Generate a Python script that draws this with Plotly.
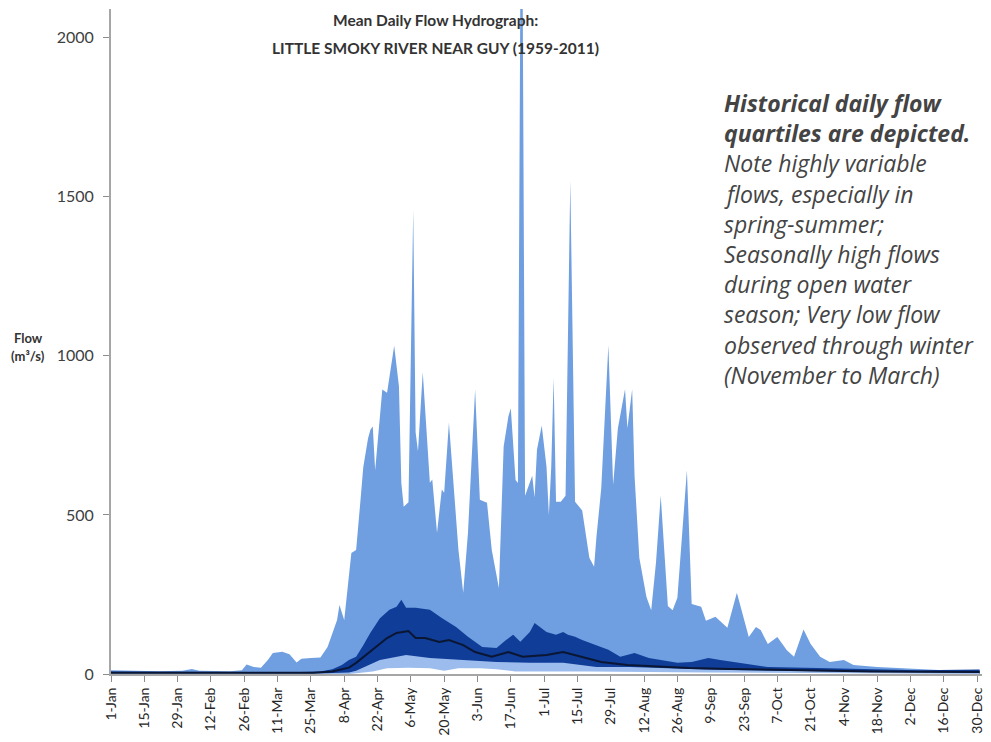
import plotly.graph_objects as go

# Day of year (0 = 1 Jan, leap-year calendar) and flow values in m3/s
max_days = [0, 10, 20, 30, 34, 37, 50, 55, 57, 60, 63, 66, 68, 72, 75, 78, 80, 84, 88, 91,
            93, 95, 96, 98, 101, 103, 105, 106, 108, 109, 110, 111, 114, 116, 119, 121, 122, 123,
            125, 127, 128, 129, 131, 134, 135, 137, 139, 140, 142, 144, 146, 148, 150, 153, 155,
            158, 160, 163, 165, 167, 168, 170, 171, 172, 173, 174, 177, 178, 179, 181, 183, 184,
            185, 186, 187, 189, 191, 193, 195, 198, 201, 203, 204, 206, 209, 211, 213, 216, 217,
            219, 220, 222, 225, 227, 229, 231, 234, 236, 238, 242, 244, 248, 250, 254, 256, 259,
            263, 266, 268, 271, 273, 276, 280, 284, 287, 291, 294, 298, 302, 308, 312, 322, 336,
            350, 365]
max_flow = [12, 10, 9, 10, 16, 10, 9, 12, 30, 22, 20, 45, 66, 70, 62, 36, 48, 50, 52, 85,
            130, 170, 217, 170, 380, 390, 560, 650, 740, 768, 778, 640, 894, 884, 1032, 904, 600, 526,
            540, 1458, 760, 700, 948, 601, 611, 444, 580, 570, 790, 601, 390, 255, 444, 894, 548,
            538, 390, 270, 715, 810, 835, 610, 600, 2130, 2130, 560, 623, 555, 705, 781, 651, 500,
            651, 930, 541, 541, 560, 1550, 541, 514, 365, 337, 432, 583, 1033, 595, 772, 895, 772,
            895, 623, 365, 242, 200, 350, 560, 214, 200, 240, 640, 220, 211, 167, 180, 167, 145,
            255, 167, 116, 148, 138, 94, 116, 75, 54, 140, 94, 54, 38, 44, 28, 22, 17,
            12, 12]

q75_days = [0, 30, 60, 80, 88, 93, 97, 100, 103, 106, 109, 113, 117, 120, 122, 124, 128, 134,
            139, 145, 150, 156, 162, 166, 169, 172, 176, 178, 183, 187, 190, 192, 195, 198, 204,
            209, 214, 220, 226, 231, 238, 244, 251, 256, 262, 276, 297, 311, 339, 365]
q75_flow = [8, 6, 6, 6, 8, 15, 28, 44, 54, 90, 130, 175, 202, 211, 233, 208, 208, 202,
            176, 148, 117, 85, 82, 107, 123, 101, 132, 160, 132, 123, 132, 123, 117, 107, 91,
            76, 54, 66, 50, 44, 35, 38, 50, 44, 38, 22, 19, 16, 12, 14]

med_days = [0, 60, 85, 93, 100, 103, 110, 116, 120, 125, 128, 132, 138, 142, 148, 153, 160,
            167, 173, 183, 190, 198, 206, 217, 231, 243, 260, 290, 320, 365]
med_flow = [4, 3, 4, 8, 20, 35, 76, 113, 129, 135, 113, 113, 101, 107, 91, 69, 54,
            69, 54, 60, 69, 54, 38, 28, 22, 19, 16, 12, 8, 6]

q25_days = [0, 90, 100, 103, 113, 120, 124, 134, 148, 162, 176, 190, 204, 218, 231, 250, 280,
            320, 365]
q25_flow = [2, 2, 5, 10, 44, 54, 60, 50, 44, 38, 35, 35, 22, 22, 19, 14, 10,
            6, 3]

min_days = [0, 100, 110, 116, 125, 134, 140, 146, 155, 162, 170, 200, 250, 300, 365]
min_flow = [0, 0, 8, 18, 20, 18, 10, 18, 18, 15, 8, 8, 5, 3, 0]

tick_days = [0, 14, 28, 42, 56, 70, 84, 98, 112, 126, 140, 154, 168, 182, 196, 210, 224,
             238, 252, 266, 280, 294, 308, 322, 336, 350, 364]
tick_labels = ["1-Jan", "15-Jan", "29-Jan", "12-Feb", "26-Feb", "11-Mar", "25-Mar", "8-Apr",
               "22-Apr", "6-May", "20-May", "3-Jun", "17-Jun", "1-Jul", "15-Jul", "29-Jul",
               "12-Aug", "26-Aug", "9-Sep", "23-Sep", "7-Oct", "21-Oct", "4-Nov", "18-Nov",
               "2-Dec", "16-Dec", "30-Dec"]

note_lines = [
    ("Historical daily flow", True),
    ("quartiles are depicted.", True),
    ("Note highly variable", False),
    ("flows, especially in", False),
    ("spring-summer;", False),
    ("Seasonally high flows", False),
    ("during open water", False),
    ("season; Very low flow", False),
    ("observed through winter", False),
    ("(November to March)", False),
]

LIGHT = "#6f9fe0"
DARK = "#0f3d98"
PALE = "#9cbcee"

fig = go.Figure()


def band(x, y, color):
    fig.add_trace(go.Scatter(x=x, y=y, mode="lines", fill="tozeroy",
                             fillcolor=color, line=dict(width=0, color=color),
                             hoverinfo="skip"))


band(max_days, max_flow, LIGHT)
band(q75_days, q75_flow, DARK)
band(q25_days, q25_flow, PALE)
band(min_days, min_flow, "#ffffff")
fig.add_trace(go.Scatter(x=med_days, y=med_flow, mode="lines",
                         line=dict(width=2, color="#0b1633"), hoverinfo="skip"))

H = 742
PLOT_TOP, PLOT_BOTTOM = 9, 674
PLOT_LEFT, PLOT_RIGHT = 111, 985


def py(p):
    return (PLOT_BOTTOM - p) / (PLOT_BOTTOM - PLOT_TOP)


def px(p):
    return (p - PLOT_LEFT) / (PLOT_RIGHT - PLOT_LEFT)


annotations = []
title_font = dict(family="Lato", size=15.5, color="#333333")
annotations.append(dict(text="<b>Mean Daily Flow Hydrograph:</b>", x=px(437), y=py(20),
                        xref="paper", yref="paper", showarrow=False, font=title_font,
                        xanchor="center", yanchor="middle"))
annotations.append(dict(text="<b>LITTLE SMOKY RIVER NEAR GUY (1959-2011)</b>", x=px(437),
                        y=py(48), xref="paper", yref="paper", showarrow=False,
                        font=title_font, xanchor="center", yanchor="middle"))
axis_title_font = dict(family="Lato", size=13, color="#333333")
annotations.append(dict(text="<b>Flow</b>", x=px(28), y=py(338), xref="paper", yref="paper",
                        showarrow=False, font=axis_title_font, xanchor="center",
                        yanchor="middle"))
annotations.append(dict(text="<b>(m³/s)</b>", x=px(28), y=py(356), xref="paper",
                        yref="paper", showarrow=False, font=axis_title_font,
                        xanchor="center", yanchor="middle"))

for i, (line, bold) in enumerate(note_lines):
    txt = f"<i>{line}</i>"
    if bold:
        txt = f"<b>{txt}</b>"
    annotations.append(dict(text=txt, x=px(724), y=py(103 + 30.2 * i), xref="paper",
                            yref="paper", showarrow=False, xanchor="left",
                            yanchor="middle",
                            font=dict(family="Open Sans", size=23, color="#444444")))

fig.update_layout(
    width=991, height=H,
    margin=dict(l=PLOT_LEFT, r=991 - PLOT_RIGHT, t=PLOT_TOP, b=H - PLOT_BOTTOM),
    plot_bgcolor="white", paper_bgcolor="white", showlegend=False,
    annotations=annotations,
)
fig.update_xaxes(range=[0, 366], tickvals=tick_days, ticktext=tick_labels, tickangle=-90,
                 ticks="outside", ticklen=6, tickcolor="#8c8c8c", showline=True,
                 linecolor="#a6a6a6", linewidth=2, showgrid=False, zeroline=False,
                 tickfont=dict(family="Lato", size=14, color="#262626"))
fig.update_yaxes(range=[0, 2090], tickvals=[0, 500, 1000, 1500, 2000], ticks="outside",
                 ticklen=6, tickcolor="#8c8c8c", showline=True, linecolor="#a6a6a6",
                 linewidth=2, showgrid=False, zeroline=False, ticklabelstandoff=6,
                 tickfont=dict(family="Lato", size=16, color="#404040"))

fig.write_html("out.html")
